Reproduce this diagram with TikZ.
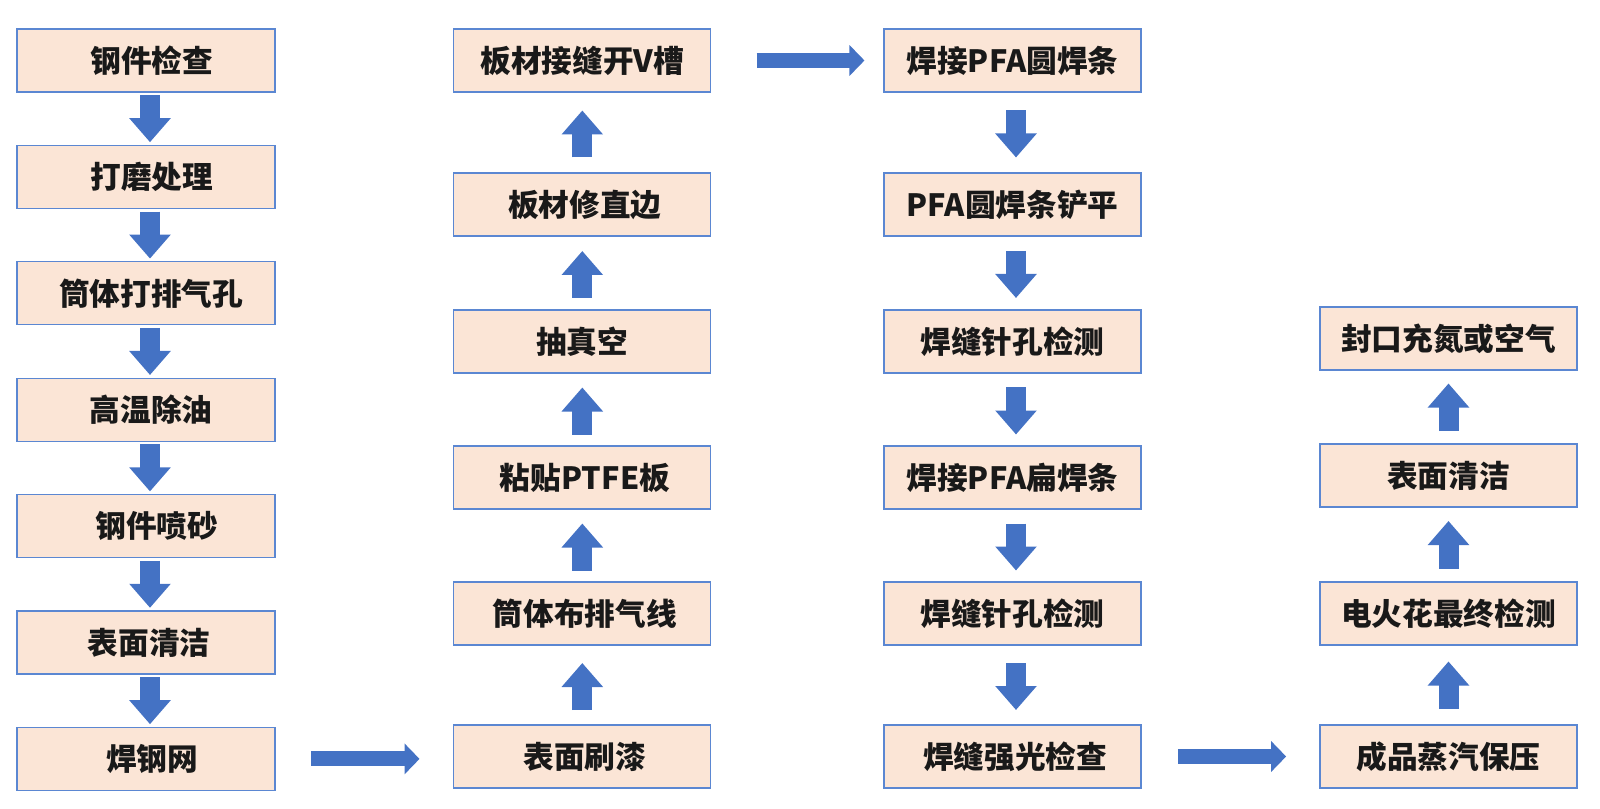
\documentclass[tikz,border=0pt]{standalone}
\usepackage{fontspec}
\setmainfont{Noto Sans CJK SC}
\usetikzlibrary{arrows.meta,calc}
\definecolor{boxfill}{HTML}{FBE5D6}
\definecolor{boxline}{HTML}{5B87D2}
\definecolor{arrowblue}{HTML}{4472C4}
\begin{document}
\begin{tikzpicture}[x=0.75pt,y=-0.75pt,
  stepbox/.style={draw=boxline,fill=boxfill,line width=0.8pt,minimum width=192.75pt,minimum height=47.25pt,inner sep=0pt,font=\fontsize{23}{27}\selectfont\bfseries,text=black!90},
  widebox/.style={stepbox,minimum width=193.5pt},
  varrow/.style={draw=arrowblue,line width=15pt,-{Triangle[length=18pt,width=30pt]}},
  harrow/.style={draw=arrowblue,line width=11.25pt,-{Triangle[length=11.25pt,width=22.5pt]}}]
\path[use as bounding box] (0,0) rectangle (1600,809);

% column 1
\node[widebox] (a1) at (146,60.5) {\hspace*{9pt}钢件检查};
\node[widebox] (a2) at (146,176.9) {\hspace*{9pt}打磨处理};
\node[widebox] (a3) at (146,293.3) {\hspace*{7.5pt}筒体打排气孔};
\node[widebox] (a4) at (146,409.7) {\hspace*{7.5pt}高温除油};
\node[widebox] (a5) at (146,526.1) {\hspace*{16.5pt}钢件喷砂};
\node[widebox] (a6) at (146,642.5) {\hspace*{4.5pt}表面清洁};
\node[widebox] (a7) at (146,758.9) {\hspace*{9pt}焊钢网};

% column 2
\node[stepbox] (b1) at (582.3,60.5) {板材接缝开V槽};
\node[stepbox] (b2) at (582.3,204.5) {\hspace*{4pt}板材修直边};
\node[stepbox] (b3) at (582.3,341.5) {抽真空};
\node[stepbox] (b4) at (582.3,477.5) {\hspace*{4pt}粘贴PTFE板};
\node[stepbox] (b5) at (582.3,613.5) {\hspace*{4pt}筒体布排气线};
\node[stepbox] (b6) at (582.3,756.5) {\hspace*{4pt}表面刷漆};

% column 3
\node[stepbox] (c1) at (1012.5,60.5) {焊接PFA圆焊条};
\node[stepbox] (c2) at (1012.5,204.5) {PFA圆焊条铲平};
\node[stepbox] (c3) at (1012.5,341.5) {焊缝针孔检测};
\node[stepbox] (c4) at (1012.5,477.5) {焊接PFA扁焊条};
\node[stepbox] (c5) at (1012.5,613.5) {焊缝针孔检测};
\node[stepbox] (c6) at (1012.5,756.5) {\hspace*{4pt}焊缝强光检查};

% column 4
\node[stepbox] (d1) at (1448.5,338.5) {封口充氮或空气};
\node[stepbox] (d2) at (1448.5,475.5) {表面清洁};
\node[stepbox] (d3) at (1448.5,613.5) {电火花最终检测};
\node[stepbox] (d4) at (1448.5,756.5) {成品蒸汽保压};

% column 1 arrows (down)
\foreach \u/\v in {a1/a2,a2/a3,a3/a4,a4/a5,a5/a6,a6/a7}
  \draw[varrow] ($(\u.south)!.5!(\v.north)+(4,-23.5)$) -- ($(\u.south)!.5!(\v.north)+(4,23.5)$);

% column 2 arrows (up)
\foreach \u/\v in {b6/b5,b5/b4,b4/b3,b3/b2,b2/b1}
  \draw[varrow] ($(\u.north)!.5!(\v.south)+(0,25)$) -- ($(\u.north)!.5!(\v.south)+(0,-22)$);

% column 3 arrows (down)
\foreach \u/\v in {c1/c2,c2/c3,c3/c4,c4/c5,c5/c6}
  \draw[varrow] ($(\u.south)!.5!(\v.north)+(3.5,-22)$) -- ($(\u.south)!.5!(\v.north)+(3.5,25)$);

% column 4 arrows (up)
\foreach \u/\v in {d4/d3,d3/d2,d2/d1}
  \draw[varrow] ($(\u.north)!.5!(\v.south)+(0,24)$) -- ($(\u.north)!.5!(\v.south)+(0,-23.5)$);

% horizontal arrows
\draw[harrow,shorten <=26.8pt,shorten >=25.3pt] (a7.east) -- (a7.east -| b6.west);
\draw[harrow,shorten <=33.9pt,shorten >=14.25pt] (b1.east) -- (c1.west);
\draw[harrow,shorten <=27.2pt,shorten >=25pt] (c6.east) -- (d4.west);
\end{tikzpicture}
\end{document}
